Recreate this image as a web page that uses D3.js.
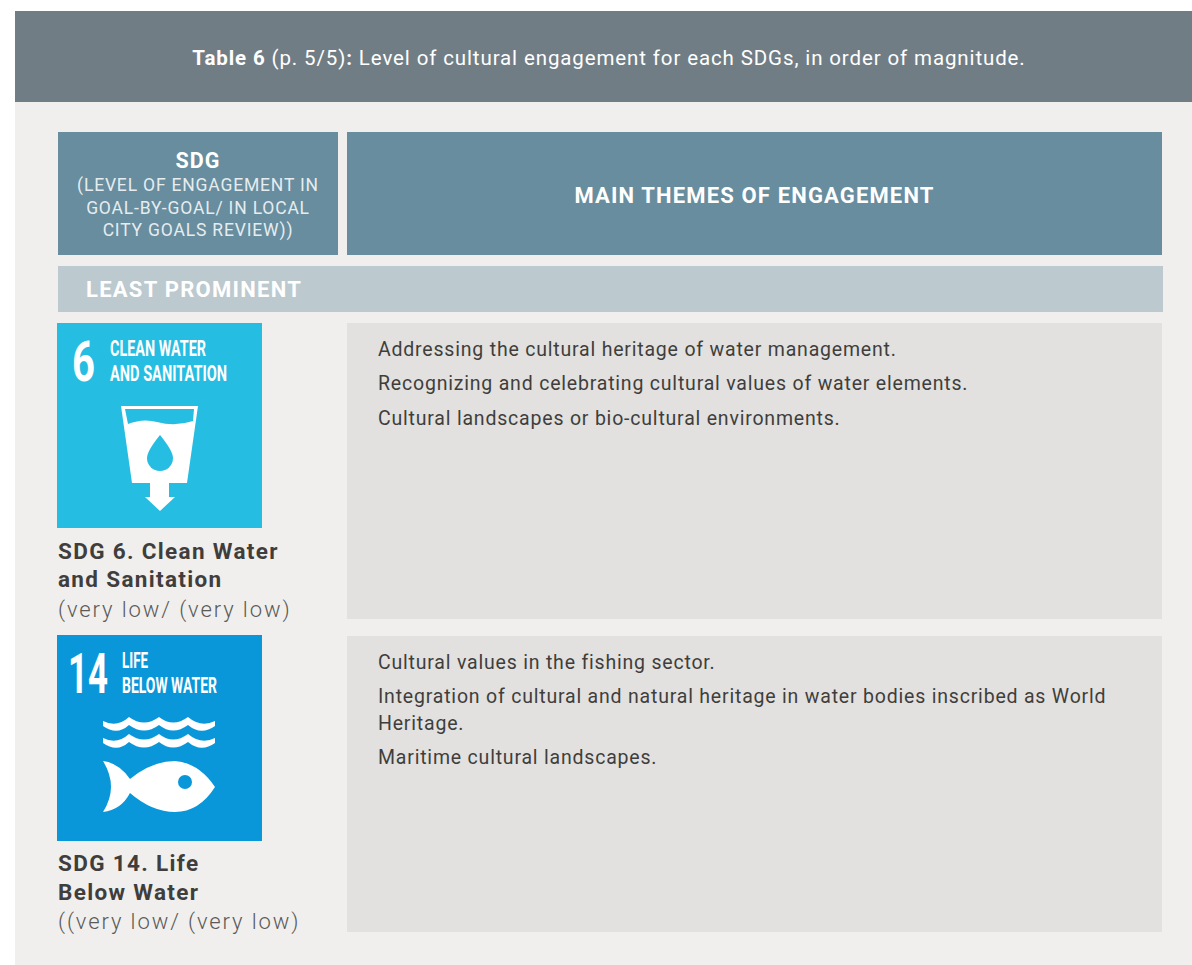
<!DOCTYPE html>
<html>
<head>
<meta charset="utf-8">
<script src="https://cdn.jsdelivr.net/npm/d3@7"></script>
<style>
html, body { margin: 0; padding: 0; background: #fff; overflow: hidden; }
text { font-family: Roboto, "Liberation Sans", sans-serif; }
</style>
</head>
<body>
<div id="table"></div>
<script>
var titleParts = ["Table 6", " (p. 5/5)", ":", " Level of cultural engagement for each SDGs, in order of magnitude."];
var sdgHeadLines = ["(LEVEL OF ENGAGEMENT IN", "GOAL-BY-GOAL/ IN LOCAL", "CITY GOALS REVIEW))"];
var sectionLabel = "LEAST PROMINENT";

var goalNumbers = ["6", "14"];
var iconTitles = [["CLEAN WATER", "AND SANITATION"], ["LIFE", "BELOW WATER"]];
var iconColors = ["#25bde2", "#0a97d9"];
var goalNames = [["SDG 6. Clean Water", "and Sanitation"], ["SDG 14. Life", "Below Water"]];
var goalLevels = ["(very low/ (very low)", "((very low/ (very low)"];
var goalThemes = [
    ["Addressing the cultural heritage of water management.",
     "Recognizing and celebrating cultural values of water elements.",
     "Cultural landscapes or bio-cultural environments."],
    ["Cultural values in the fishing sector.",
     "Integration of cultural and natural heritage in water bodies inscribed as World",
     "Heritage.",
     "Maritime cultural landscapes."]
];

var svg = d3.select('#table')
    .append('svg')
    .attr('width', 1192)
    .attr('height', 965)
    .style('display', 'block');

var rect = function (x, y, w, h, fill) {
    return svg.append('rect').attr('x', x).attr('y', y).attr('width', w).attr('height', h).attr('fill', fill);
};

var label = function (parent, x, y, size, weight, fill, spacing, str) {
    return parent.append('text')
        .attr('x', x)
        .attr('y', y)
        .attr('font-size', size)
        .attr('font-weight', weight)
        .attr('fill', fill)
        .attr('letter-spacing', spacing)
        .text(str);
};

// Squeeze a text horizontally to the width it has on the tile
var condense = function (node, x, y, width) {
    var sx = width / node.getComputedTextLength();
    d3.select(node)
        .attr('x', 0)
        .attr('y', 0)
        .attr('transform', 'translate(' + x + ',' + y + ') scale(' + sx + ',1)');
};

// Panels
rect(15, 11, 1177, 91, '#717d85');
rect(15, 102, 1177, 863, '#f0efed');
rect(58, 132, 280, 123, '#678d9e');
rect(347, 132, 815, 123, '#678d9e');
rect(58, 266, 1105, 46, '#bcc9cf');

// Title
svg.append('text')
    .attr('x', 609)
    .attr('y', 65)
    .attr('text-anchor', 'middle')
    .attr('font-size', 20.5)
    .attr('letter-spacing', 0.88)
    .attr('fill', '#fff')
    .selectAll('tspan')
    .data(titleParts)
    .enter().append('tspan')
    .attr('font-weight', function (d, i) { return i === 0 || i === 2 ? 700 : 400; })
    .attr('xml:space', 'preserve')
    .text(function (d) { return d; });

// Column heads
label(svg, 198, 168, 21.5, 700, '#fff', 1, 'SDG').attr('text-anchor', 'middle');
svg.selectAll('.sdg-head')
    .data(sdgHeadLines)
    .enter().append('text')
    .attr('class', 'sdg-head')
    .attr('x', 198)
    .attr('y', function (d, i) { return 191 + i * 22.5; })
    .attr('text-anchor', 'middle')
    .attr('font-size', 17.5)
    .attr('letter-spacing', 0.82)
    .attr('fill', '#e6ecef')
    .text(function (d) { return d; });
label(svg, 754.5, 203, 22, 700, '#fff', 1.15, 'MAIN THEMES OF ENGAGEMENT').attr('text-anchor', 'middle');
label(svg, 86, 297, 22, 700, '#fff', 1.27, sectionLabel);

// SDG icon artwork, local coordinates of a 205px tile
var glass = 'M64,83H141L130,160H112V174H118L103,188L88,174H93V160H75ZM68,86L71,101Q86,95 100,99Q118,104 136,98L137,86Z';
var wave = 'M46,86Q60,93 72,82Q87,93 102,82Q116,93 131,82Q144,93 158,86V91Q144,101 131,90Q116,101 102,90Q87,101 72,90Q60,101 46,91Z';
var fish = 'M46,126Q62,128 73,144Q95,126 118,126Q142,128 158,152Q142,177 118,177Q95,177 73,158Q64,175 46,177Q62,152 46,126Z';

var drawIcon = function (g, i) {
    if (i === 0) {
        g.append('path').attr('d', glass).attr('fill', '#fff').attr('fill-rule', 'evenodd');
        g.append('path')
            .attr('d', 'M103,112Q116,128 116,135A13,13 0 0 1 90,135Q90,128 103,112Z')
            .attr('fill', iconColors[i]);
    } else {
        g.append('path').attr('d', wave).attr('fill', '#fff');
        g.append('path').attr('d', wave).attr('fill', '#fff').attr('transform', 'translate(0,17)');
        g.append('path').attr('d', fish).attr('fill', '#fff');
        g.append('circle').attr('cx', 128).attr('cy', 147).attr('r', 7).attr('fill', iconColors[i]);
    }
};

// Goal rows
var rowTop = [323, 635];
var boxTop = [323, 636];
var boxHeight = [296, 296];
var iconSize = [205, 206];
var nameBaseline = [[559, 587], [871, 900]];
var levelBaseline = [617, 929];
var themeBaselines = [[356, 390, 425], [669, 703, 730, 764]];
var numberLayout = [{x: 15, len: 23, y: 58}, {x: 11, len: 40, y: 58}];
var titleX = [53, 65];
var titleLen = [[96, 117], [26, 95]];

goalNumbers.forEach(function (num, i) {
    var g = svg.append('g').attr('transform', 'translate(57,' + rowTop[i] + ')');
    g.append('rect')
        .attr('width', 205)
        .attr('height', iconSize[i])
        .attr('fill', iconColors[i]);

    g.append('text')
        .attr('font-size', 56)
        .attr('font-weight', 700)
        .attr('fill', '#fff')
        .text(num)
        .each(function () { condense(this, numberLayout[i].x, numberLayout[i].y, numberLayout[i].len); });

    g.selectAll('.icon-title')
        .data(iconTitles[i])
        .enter().append('text')
        .attr('class', 'icon-title')
        .attr('font-size', 21.5)
        .attr('font-weight', 700)
        .attr('fill', '#fff')
        .text(function (d) { return d; })
        .each(function (d, j) { condense(this, titleX[i], 33 + j * 25, titleLen[i][j]); });

    drawIcon(g, i);

    goalNames[i].forEach(function (name, j) {
        label(svg, 58, nameBaseline[i][j], 22.5, 700, '#3f3e3c', 1.33, name);
    });
    label(svg, 58, levelBaseline[i], 22, 300, '#5a5a58', 1.9, goalLevels[i]);

    rect(347, boxTop[i], 815, boxHeight[i], '#e2e1df');

    svg.selectAll('.theme-' + i)
        .data(goalThemes[i])
        .enter().append('text')
        .attr('class', 'theme-' + i)
        .attr('x', 378)
        .attr('y', function (d, j) { return themeBaselines[i][j]; })
        .attr('font-size', 19.5)
        .attr('letter-spacing', 0.8)
        .attr('fill', '#3f3e3c')
        .text(function (d) { return d; });
});
</script>
</body>
</html>
